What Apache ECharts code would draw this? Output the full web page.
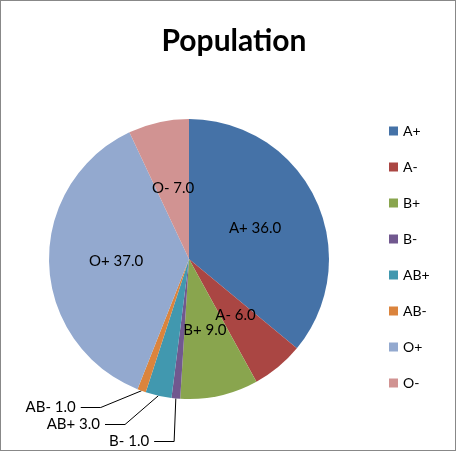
<!DOCTYPE html>
<html><head><meta charset="utf-8">
<script src="https://cdn.jsdelivr.net/npm/echarts@6/dist/echarts.min.js"></script>
<style>
html,body{margin:0;padding:0;background:#fff}
#c{width:454px;height:449px;border:1px solid #888}
</style></head>
<body><div id="c"></div>
<script>
const groups = ["A+", "A-", "B+", "B-", "AB+", "AB-", "O+", "O-"];
const population = [36, 6, 9, 1, 3, 1, 37, 7];
const colors = ["#4572A7", "#AA4643", "#89A54E", "#71588F", "#4198AF", "#DB843D", "#93A9CF", "#D19392"];
const outside = ["B-", "AB+", "AB-"];

let chart = echarts.init(document.getElementById("c"));
let data = groups.map((g, i) => {
  let item = { name: g, value: population[i], itemStyle: { color: colors[i] } };
  if (outside.includes(g)) {
    item.label = { position: "outside" };
    item.labelLine = { show: true, length: 18, length2: 20, lineStyle: { color: "#000" } };
  }
  return item;
});

chart.setOption({
  animation: false,
  textStyle: { fontFamily: "Lato" },
  title: { text: "Population", left: 228, top: 20, textAlign: "center",
    textStyle: { fontSize: 30, fontWeight: "bold", color: "#000", fontFamily: "Lato" } },
  legend: {
    orient: "vertical", left: 383, top: 118, itemGap: 22, itemWidth: 9, itemHeight: 9,
    icon: "rect", textStyle: { fontSize: 14, color: "#000" }, data: groups
  },
  series: [{
    type: "pie", center: [188, 258], radius: 140, startAngle: 90, clockwise: true,
    label: { show: true, position: "inside", fontSize: 15, color: "#000",
      formatter: p => p.name + " " + p.value.toFixed(1) },
    labelLine: { show: false },
    itemStyle: { borderWidth: 0 },
    data: data
  }]
});
</script></body></html>
